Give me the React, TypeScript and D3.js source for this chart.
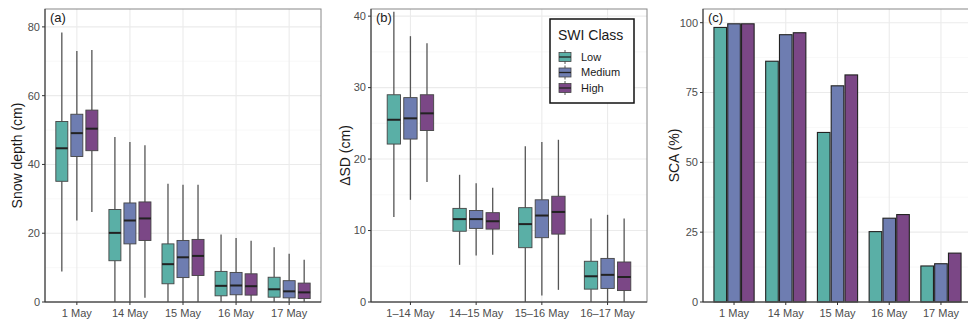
import * as React from "react";
import * as d3 from "d3";

// categories
const dates = ["1 May", "14 May", "15 May", "16 May", "17 May"];
const intervals = ["1–14 May", "14–15 May", "15–16 May", "16–17 May"];
const classes = ["Low", "Medium", "High"];
const colors = ["#5aafa6", "#6e7db1", "#7b4786"];

// snow depth boxplot stats [min, q1, median, q3, max] per date
const depthLow = [[8.9, 35.1, 44.7, 52.5, 78.4], [0, 12.0, 20.1, 26.9, 48.0], [0, 5.3, 11.0, 16.9, 34.4], [0, 1.8, 4.7, 8.9, 19.6], [0, 1.4, 3.7, 7.2, 15.9]];
const depthMedium = [[23.7, 42.3, 49.1, 54.6, 73.0], [0, 16.9, 23.7, 28.8, 46.5], [0, 7.1, 13.0, 17.9, 34.1], [0, 2.1, 4.8, 8.6, 18.6], [0, 1.2, 3.1, 6.2, 14.0]];
const depthHigh = [[26.2, 44.0, 50.4, 55.8, 73.3], [1.2, 17.9, 24.3, 29.1, 45.6], [0, 7.7, 13.4, 18.2, 34.1], [0, 2.0, 4.6, 8.2, 17.8], [0, 1.0, 2.8, 5.5, 12.3]];

// change in snow depth stats per interval
const dsdLow = [[11.9, 22.1, 25.5, 29.0, 40.6], [5.2, 9.9, 11.6, 13.1, 17.8], [0, 7.6, 10.9, 13.2, 21.8], [0, 1.8, 3.6, 5.7, 11.7]];
const dsdMedium = [[14.3, 22.8, 25.7, 28.6, 37.2], [6.5, 10.3, 11.6, 12.8, 16.6], [0.9, 9.0, 12.1, 14.3, 22.4], [0, 1.9, 3.8, 6.1, 12.2]];
const dsdHigh = [[16.8, 24.0, 26.4, 29.0, 36.2], [6.6, 10.2, 11.3, 12.5, 16.0], [1.7, 9.5, 12.6, 14.8, 22.7], [0, 1.6, 3.5, 5.6, 11.7]];

// snow covered area (%)
const scaLow = [98.3, 86.2, 60.7, 25.2, 12.9];
const scaMedium = [99.6, 95.7, 77.4, 30.0, 13.7];
const scaHigh = [99.6, 96.4, 81.3, 31.3, 17.5];

const yTicksA = [0, 20, 40, 60, 80];
const yMinorA = [10, 30, 50, 70];
const yTicksB = [0, 10, 20, 30, 40];
const yMinorB = [5, 15, 25, 35];
const yTicksC = [0, 25, 50, 75, 100];
const yMinorC = [12.5, 37.5, 62.5, 87.5];

const FONT = "Liberation Sans, Arial, sans-serif";
const TOP = 9;
const BOTTOM = 302;

interface FrameProps {
  x0: number;
  x1: number;
  cats: string[];
  y: d3.ScaleLinear<number, number>;
  ticks: number[];
  minor: number[];
  yLabel: string;
  tag: string;
  labelX: number;
  children: (x: d3.ScaleBand<string>) => React.ReactNode;
}

const Frame: React.FC<FrameProps> = ({ x0, x1, cats, y, ticks, minor, yLabel, tag, labelX, children }) => {
  const x = d3.scaleBand<string>().domain(cats).range([x0, x1]).paddingInner(0).paddingOuter(0.1);
  const cx = (c: string) => (x(c) as number) + x.bandwidth() / 2;
  return (
    <g>
      <rect x={x0} y={TOP} width={x1 - x0} height={BOTTOM - TOP} fill="white" />
      {minor.map((t) => (
        <line key={"m" + t} x1={x0} x2={x1} y1={y(t)} y2={y(t)} stroke="#f3f3f3" strokeWidth={0.6} />
      ))}
      {ticks.map((t) => (
        <line key={"g" + t} x1={x0} x2={x1} y1={y(t)} y2={y(t)} stroke="#ebebeb" strokeWidth={1.1} />
      ))}
      {cats.map((c) => (
        <line key={"v" + c} x1={cx(c)} x2={cx(c)} y1={TOP} y2={BOTTOM} stroke="#ebebeb" strokeWidth={1.1} />
      ))}
      {children(x)}
      <rect x={x0} y={TOP} width={x1 - x0} height={BOTTOM - TOP} fill="none" stroke="#888" strokeWidth={1} />
      <line x1={x0} x2={x1} y1={BOTTOM} y2={BOTTOM} stroke="#333" strokeWidth={1} />
      <line x1={x0} x2={x0} y1={TOP} y2={BOTTOM} stroke="#333" strokeWidth={1} />
      {ticks.map((t) => (
        <g key={"t" + t}>
          <line x1={x0 - 3} x2={x0} y1={y(t)} y2={y(t)} stroke="#333" />
          <text x={x0 - 5} y={y(t)} dy="0.35em" textAnchor="end" fontSize={11} fill="#4d4d4d" fontFamily={FONT}>
            {t}
          </text>
        </g>
      ))}
      {cats.map((c) => (
        <g key={"xt" + c}>
          <line x1={cx(c)} x2={cx(c)} y1={BOTTOM} y2={BOTTOM + 3} stroke="#333" />
          <text x={cx(c)} y={BOTTOM + 15} textAnchor="middle" fontSize={11} fill="#4d4d4d" fontFamily={FONT}>
            {c}
          </text>
        </g>
      ))}
      <text
        transform={`translate(${labelX},${(TOP + BOTTOM) / 2}) rotate(-90)`}
        textAnchor="middle"
        fontSize={14}
        fill="#1a1a1a"
        fontFamily={FONT}
      >
        {yLabel}
      </text>
      <text x={x0 + 5} y={TOP + 13} fontSize={13} fill="#1a1a1a" fontFamily={FONT}>
        {tag}
      </text>
    </g>
  );
};

const Boxes: React.FC<{
  x: d3.ScaleBand<string>;
  y: d3.ScaleLinear<number, number>;
  series: number[][][];
  spacing: number;
  boxW: number;
}> = ({ x, y, series, spacing, boxW }) => {
  const cats = x.domain();
  return (
    <g>
      {series.map((s, k) =>
        s.map((d, i) => {
          const cx = (x(cats[i]) as number) + x.bandwidth() / 2 + (k - 1) * spacing * x.bandwidth();
          const w = boxW * x.bandwidth();
          const [lo, q1, med, q3, hi] = d;
          return (
            <g key={k + "-" + i}>
              <line x1={cx} x2={cx} y1={y(hi)} y2={y(q3)} stroke="#555" strokeWidth={1.3} />
              <line x1={cx} x2={cx} y1={y(q1)} y2={y(lo)} stroke="#555" strokeWidth={1.3} />
              <rect
                x={cx - w / 2}
                y={y(q3)}
                width={w}
                height={y(q1) - y(q3)}
                fill={colors[k]}
                stroke="#444"
                strokeWidth={0.9}
              />
              <line x1={cx - w / 2} x2={cx + w / 2} y1={y(med)} y2={y(med)} stroke="#222" strokeWidth={2} />
            </g>
          );
        })
      )}
    </g>
  );
};

const Bars: React.FC<{
  x: d3.ScaleBand<string>;
  y: d3.ScaleLinear<number, number>;
  series: number[][];
}> = ({ x, y, series }) => {
  const sub = d3
    .scaleBand<number>()
    .domain([0, 1, 2])
    .range([0.1 * x.bandwidth(), 0.9 * x.bandwidth()]);
  const cats = x.domain();
  return (
    <g>
      {series.map((s, k) =>
        s.map((v, i) => {
          const bx = (x(cats[i]) as number) + (sub(k) as number) + 0.6;
          return (
            <rect
              key={k + "-" + i}
              x={bx}
              y={y(v)}
              width={sub.bandwidth() - 1.2}
              height={y(0) - y(v)}
              fill={colors[k]}
              stroke="#222"
              strokeWidth={1.1}
            />
          );
        })
      )}
    </g>
  );
};

const Legend: React.FC<{ x: number; y: number }> = ({ x, y }) => (
  <g transform={`translate(${x},${y})`}>
    <rect x={0} y={0} width={84} height={84} fill="white" stroke="#111" strokeWidth={1.5} />
    <text x={8} y={21} fontSize={14} fill="#1a1a1a" fontFamily={FONT}>
      SWI Class
    </text>
    {classes.map((c, k) => {
      const cy = 38 + k * 15.5;
      return (
        <g key={c}>
          <line x1={15} x2={15} y1={cy - 7} y2={cy + 7} stroke="#555" strokeWidth={1} />
          <rect x={9} y={cy - 4.5} width={12} height={9} fill={colors[k]} stroke="#444" strokeWidth={0.8} />
          <line x1={9} x2={21} y1={cy} y2={cy} stroke="#222" strokeWidth={1.3} />
          <text x={31} y={cy} dy="0.35em" fontSize={11} fill="#1a1a1a" fontFamily={FONT}>
            {c}
          </text>
        </g>
      );
    })}
  </g>
);

export default function App() {
  const yA = d3.scaleLinear().domain([0, 85.2]).range([BOTTOM, TOP]);
  const yB = d3.scaleLinear().domain([0, 41]).range([BOTTOM, TOP]);
  const yC = d3.scaleLinear().domain([0, 104.9]).range([BOTTOM, TOP]);
  return (
    <svg
      width={968}
      height={324}
      style={{ position: "absolute", left: 0, top: 0, background: "white" }}
    >
      <rect width={968} height={324} fill="white" />
      <Frame x0={45} x1={321} cats={dates} y={yA} ticks={yTicksA} minor={yMinorA} yLabel="Snow depth (cm)" tag="(a)" labelX={22}>
        {(x) => <Boxes x={x} y={yA} series={[depthLow, depthMedium, depthHigh]} spacing={0.283} boxW={0.226} />}
      </Frame>
      <Frame x0={371} x1={647} cats={intervals} y={yB} ticks={yTicksB} minor={yMinorB} yLabel="ΔSD (cm)" tag="(b)" labelX={350}>
        {(x) => <Boxes x={x} y={yB} series={[dsdLow, dsdMedium, dsdHigh]} spacing={0.252} boxW={0.203} />}
      </Frame>
      <Legend x={550} y={19} />
      <Frame x0={703} x1={972} cats={dates} y={yC} ticks={yTicksC} minor={yMinorC} yLabel="SCA (%)" tag="(c)" labelX={679}>
        {(x) => <Bars x={x} y={yC} series={[scaLow, scaMedium, scaHigh]} />}
      </Frame>
    </svg>
  );
}
